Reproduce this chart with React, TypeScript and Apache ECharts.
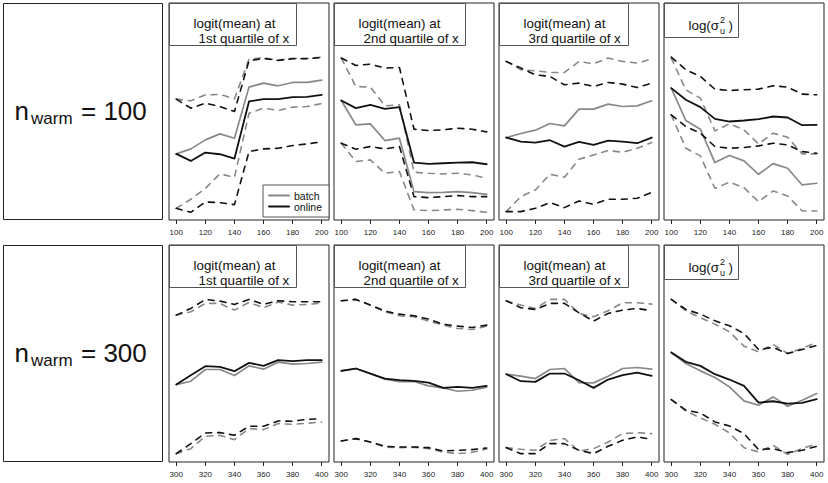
import React, { useEffect, useRef } from "react";
import * as echarts from "echarts";

const FONT = '"Liberation Sans", Arial, Helvetica, sans-serif';

// x values (iterations) for the two warm-up settings
const xsWarm100 = [100, 110, 120, 130, 140, 150, 160, 170, 180, 190, 200];
const xsWarm300 = [300, 310, 320, 330, 340, 350, 360, 370, 380, 390, 400];
const ticksWarm100 = [100, 120, 140, 160, 180, 200];
const ticksWarm300 = [300, 320, 340, 360, 380, 400];

const rowLabels = ["100", "300"];
const titleLine1 = "logit(mean) at";
const quartileLabels = ["1st quartile of x", "2nd quartile of x", "3rd quartile of x"];
const legendNames = ["batch", "online"];

// ---- n_warm = 100, panel 1 (1st quartile) ----
const w100q1BatchMean = [19.8, 21.3, 24.0, 25.8, 24.5, 39.8, 41.0, 40.2, 41.2, 41.2, 41.9];
const w100q1BatchLo = [3.5, 6.2, 9.5, 13.8, 12.8, 32.0, 33.5, 32.8, 33.8, 34.0, 34.9];
const w100q1BatchHi = [36.2, 35.7, 37.5, 37.6, 36.3, 48.2, 48.6, 47.9, 48.4, 48.4, 48.8];
const w100q1OnlineMean = [19.8, 17.7, 20.2, 19.7, 18.4, 35.5, 36.2, 36.2, 36.8, 36.9, 37.5];
const w100q1OnlineLo = [3.5, 2.3, 5.4, 5.2, 4.6, 20.5, 21.3, 21.5, 22.3, 22.8, 23.4];
const w100q1OnlineHi = [36.2, 33.5, 35.0, 34.0, 32.5, 47.7, 48.4, 47.8, 48.3, 48.3, 48.7];

// ---- n_warm = 100, panel 2 (2nd quartile) ----
const w100q2BatchMean = [35.8, 28.5, 28.8, 23.8, 24.5, 8.5, 8.2, 8.3, 8.5, 8.2, 7.7];
const w100q2BatchLo = [23.0, 17.5, 18.0, 14.0, 14.5, 3.0, 2.8, 3.0, 3.2, 2.8, 2.3];
const w100q2BatchHi = [48.5, 40.0, 39.8, 34.2, 34.5, 14.3, 14.0, 13.8, 14.0, 13.5, 12.5];
const w100q2OnlineMean = [35.8, 33.5, 34.5, 33.3, 33.8, 17.2, 16.8, 17.0, 17.2, 17.3, 16.7];
const w100q2OnlineLo = [23.0, 21.2, 22.0, 21.3, 22.0, 7.0, 6.7, 7.0, 7.3, 7.0, 7.0];
const w100q2OnlineHi = [48.5, 46.3, 46.7, 45.5, 45.7, 27.2, 26.8, 27.0, 27.5, 27.2, 26.4];

// ---- n_warm = 100, panel 3 (3rd quartile) ----
const w100q3BatchMean = [24.7, 25.9, 26.9, 28.9, 28.2, 33.2, 33.2, 34.7, 34.0, 34.2, 35.7];
const w100q3BatchLo = [2.5, 7.0, 9.0, 13.7, 12.8, 18.2, 19.5, 20.8, 20.3, 21.5, 23.2];
const w100q3BatchHi = [47.5, 45.0, 44.7, 44.2, 44.2, 47.5, 46.8, 48.5, 47.5, 47.0, 48.2];
const w100q3OnlineMean = [24.7, 23.5, 23.2, 23.9, 22.0, 23.4, 22.5, 23.8, 23.5, 23.0, 24.7];
const w100q3OnlineLo = [2.5, 2.5, 3.5, 5.2, 3.7, 5.7, 4.7, 6.2, 6.2, 6.5, 8.3];
const w100q3OnlineHi = [47.5, 45.5, 43.5, 43.0, 40.5, 41.0, 40.0, 41.2, 40.7, 39.7, 41.0];

// ---- n_warm = 100, panel 4 (log sigma_u^2) ----
const w100sBatchMean = [39.5, 29.8, 27.2, 17.2, 19.3, 17.7, 13.7, 16.9, 15.5, 10.5, 11.0];
const w100sBatchLo = [31.5, 21.5, 19.2, 9.5, 11.3, 9.7, 5.5, 8.7, 7.2, 2.7, 2.7];
const w100sBatchHi = [48.5, 39.0, 36.5, 26.7, 28.8, 27.0, 22.8, 26.0, 24.8, 19.8, 19.8];
const w100sOnlineMean = [39.5, 36.0, 33.8, 30.3, 29.5, 29.8, 30.2, 31.0, 30.7, 28.4, 28.5];
const w100sOnlineLo = [31.5, 28.0, 26.0, 22.0, 21.5, 21.7, 22.2, 23.0, 22.5, 20.5, 20.0];
const w100sOnlineHi = [48.8, 45.0, 43.0, 39.2, 38.8, 39.0, 39.2, 40.2, 39.8, 37.7, 37.5];

// ---- n_warm = 300, panel 1 ----
const w300q1BatchMean = [23.2, 24.2, 27.7, 27.7, 25.9, 28.8, 27.8, 29.9, 29.3, 29.5, 29.9];
const w300q1BatchLo = [2.5, 4.0, 7.7, 8.0, 6.7, 10.0, 9.7, 11.5, 11.3, 11.6, 12.0];
const w300q1BatchHi = [44.0, 45.0, 47.5, 47.5, 45.5, 47.8, 46.2, 47.9, 47.0, 47.2, 47.6];
const w300q1OnlineMean = [23.2, 26.0, 28.7, 28.5, 27.2, 29.7, 28.8, 30.5, 30.2, 30.5, 30.5];
const w300q1OnlineLo = [2.5, 5.5, 8.7, 8.8, 8.0, 10.7, 10.7, 12.3, 12.2, 12.8, 12.9];
const w300q1OnlineHi = [44.0, 46.0, 48.7, 48.2, 47.2, 48.7, 47.2, 48.3, 48.0, 48.0, 48.0];

// ---- n_warm = 300, panel 2 ----
const w300q2BatchMean = [27.3, 28.0, 26.5, 24.8, 24.1, 24.1, 22.8, 22.2, 21.2, 21.5, 22.4];
const w300q2BatchLo = [6.3, 7.0, 6.0, 4.5, 4.3, 4.4, 4.0, 3.0, 2.5, 2.9, 3.9];
const w300q2BatchHi = [48.3, 48.7, 47.0, 45.0, 43.8, 43.5, 42.2, 41.0, 40.0, 39.7, 40.7];
const w300q2OnlineMean = [27.3, 28.0, 26.5, 25.0, 24.5, 24.3, 23.8, 22.2, 22.5, 22.2, 22.8];
const w300q2OnlineLo = [6.3, 7.0, 6.0, 4.7, 4.5, 4.5, 4.3, 3.3, 3.5, 3.7, 4.2];
const w300q2OnlineHi = [48.3, 48.7, 47.0, 45.2, 44.3, 43.8, 42.8, 41.3, 40.7, 40.3, 41.0];

// ---- n_warm = 300, panel 3 ----
const w300q3BatchMean = [26.3, 25.7, 25.0, 27.7, 28.0, 23.8, 23.7, 25.7, 28.0, 28.3, 27.8];
const w300q3BatchLo = [4.3, 3.8, 3.5, 6.5, 7.0, 3.3, 4.0, 6.0, 8.5, 8.8, 8.5];
const w300q3BatchHi = [48.3, 47.0, 46.0, 48.7, 48.7, 44.5, 43.5, 45.3, 47.7, 47.7, 47.3];
const w300q3OnlineMean = [26.3, 24.2, 24.0, 26.5, 26.5, 24.5, 22.2, 24.7, 26.0, 26.8, 25.8];
const w300q3OnlineLo = [4.3, 2.5, 2.5, 5.5, 5.5, 3.5, 2.5, 4.7, 6.5, 7.5, 6.8];
const w300q3OnlineHi = [48.3, 46.2, 45.7, 47.5, 47.5, 44.7, 42.2, 44.5, 45.5, 46.0, 45.3];

// ---- n_warm = 300, panel 4 ----
const w300sBatchMean = [32.8, 29.5, 27.3, 25.3, 22.5, 18.3, 17.0, 19.5, 16.7, 18.5, 20.5];
const w300sBatchLo = [18.7, 15.3, 13.2, 11.3, 8.7, 4.3, 3.0, 5.0, 2.3, 4.0, 5.5];
const w300sBatchHi = [48.7, 45.3, 43.2, 41.3, 39.0, 34.7, 33.0, 35.2, 32.5, 34.0, 35.9];
const w300sOnlineMean = [32.8, 30.0, 28.8, 26.3, 24.7, 22.8, 17.8, 18.2, 17.5, 17.7, 18.8];
const w300sOnlineLo = [18.7, 15.5, 14.7, 12.0, 10.8, 8.5, 3.7, 4.0, 2.8, 3.5, 4.7];
const w300sOnlineHi = [48.7, 45.7, 44.3, 42.3, 40.8, 38.5, 33.7, 34.3, 32.5, 33.7, 34.9];

const GRAY = "#888888";
const BLACK = "#111111";
const FRAME = "#222222";
const BOXLINE = "#555555";

type Panel = {
  row: number;
  col: number;
  xs: number[];
  ticks: number[];
  batch: number[][];
  online: number[][];
};

const panels: Panel[] = [
  { row: 0, col: 0, xs: xsWarm100, ticks: ticksWarm100, batch: [w100q1BatchMean, w100q1BatchLo, w100q1BatchHi], online: [w100q1OnlineMean, w100q1OnlineLo, w100q1OnlineHi] },
  { row: 0, col: 1, xs: xsWarm100, ticks: ticksWarm100, batch: [w100q2BatchMean, w100q2BatchLo, w100q2BatchHi], online: [w100q2OnlineMean, w100q2OnlineLo, w100q2OnlineHi] },
  { row: 0, col: 2, xs: xsWarm100, ticks: ticksWarm100, batch: [w100q3BatchMean, w100q3BatchLo, w100q3BatchHi], online: [w100q3OnlineMean, w100q3OnlineLo, w100q3OnlineHi] },
  { row: 0, col: 3, xs: xsWarm100, ticks: ticksWarm100, batch: [w100sBatchMean, w100sBatchLo, w100sBatchHi], online: [w100sOnlineMean, w100sOnlineLo, w100sOnlineHi] },
  { row: 1, col: 0, xs: xsWarm300, ticks: ticksWarm300, batch: [w300q1BatchMean, w300q1BatchLo, w300q1BatchHi], online: [w300q1OnlineMean, w300q1OnlineLo, w300q1OnlineHi] },
  { row: 1, col: 1, xs: xsWarm300, ticks: ticksWarm300, batch: [w300q2BatchMean, w300q2BatchLo, w300q2BatchHi], online: [w300q2OnlineMean, w300q2OnlineLo, w300q2OnlineHi] },
  { row: 1, col: 2, xs: xsWarm300, ticks: ticksWarm300, batch: [w300q3BatchMean, w300q3BatchLo, w300q3BatchHi], online: [w300q3OnlineMean, w300q3OnlineLo, w300q3OnlineHi] },
  { row: 1, col: 3, xs: xsWarm300, ticks: ticksWarm300, batch: [w300sBatchMean, w300sBatchLo, w300sBatchHi], online: [w300sOnlineMean, w300sOnlineLo, w300sOnlineHi] },
];

const PANEL_W = 160;
const PANEL_H = 217;
const panelLeft = (col: number) => 169 + col * 165;
const panelTop = (row: number) => (row === 0 ? 3 : 245);
const titleBoxW = [127, 131, 129, 74];

function buildOption() {
  const grid: any[] = [];
  const xAxis: any[] = [];
  const yAxis: any[] = [];
  const series: any[] = [];
  const graphic: any[] = [];

  panels.forEach((p, g) => {
    const left = panelLeft(p.col);
    const top = panelTop(p.row);
    grid.push({
      left,
      top,
      width: PANEL_W,
      height: PANEL_H,
      show: true,
      borderColor: FRAME,
      borderWidth: 1,
      backgroundColor: "transparent",
    });
    const x0 = p.xs[0];
    xAxis.push({
      type: "value",
      gridIndex: g,
      min: x0 - 5,
      max: p.xs[p.xs.length - 1] + 5,
      axisLine: { show: false },
      splitLine: { show: false },
      axisTick: {
        show: true,
        inside: false,
        length: 4,
        lineStyle: { color: FRAME, width: 1 },
        customValues: p.ticks,
      },
      axisLabel: {
        show: true,
        customValues: p.ticks,
        fontSize: 8,
        margin: 8,
        color: "#222",
        fontFamily: FONT,
      },
    });
    yAxis.push({
      type: "value",
      gridIndex: g,
      min: 0,
      max: 65,
      show: false,
      splitLine: { show: false },
    });

    const mk = (name: string, vals: number[], color: string, dashed: boolean, width: number, z: number) => ({
      type: "line",
      name,
      xAxisIndex: g,
      yAxisIndex: g,
      data: p.xs.map((x, i) => [x, vals[i]]),
      symbol: "none",
      silent: true,
      z,
      itemStyle: { color },
      lineStyle: {
        color,
        width,
        type: dashed ? [6, 6] : "solid",
        cap: "round",
        join: "round",
      },
    });
    series.push(mk(legendNames[0], p.batch[0], GRAY, false, 1.7, 2));
    series.push(mk("batch lower", p.batch[1], GRAY, true, 1.6, 2));
    series.push(mk("batch upper", p.batch[2], GRAY, true, 1.6, 2));
    series.push(mk(legendNames[1], p.online[0], BLACK, false, 1.8, 3));
    series.push(mk("online lower", p.online[1], BLACK, true, 1.6, 3));
    series.push(mk("online upper", p.online[2], BLACK, true, 1.6, 3));

    // title box
    const bh = p.col === 3 ? 34 : 42;
    graphic.push({
      type: "rect",
      z: 50,
      shape: { x: left + 0.5, y: top + 0.5, width: titleBoxW[p.col], height: bh },
      style: { fill: "#fff", stroke: BOXLINE, lineWidth: 1 },
    });
    if (p.col < 3) {
      graphic.push({
        type: "text",
        z: 51,
        x: left + 24.5,
        y: top + 20.5,
        style: { text: titleLine1, fontSize: 13.4, fontFamily: FONT, fill: BLACK, align: "left", verticalAlign: "middle" },
      });
      graphic.push({
        type: "text",
        z: 51,
        x: left + 29.5,
        y: top + 35,
        style: { text: quartileLabels[p.col], fontSize: 13.4, fontFamily: FONT, fill: BLACK, align: "left", verticalAlign: "middle" },
      });
    } else {
      graphic.push({
        type: "text",
        z: 51,
        x: left + 24.5,
        y: top + 22,
        style: { text: "log(σ", fontSize: 13.4, fontFamily: FONT, fill: BLACK, align: "left", verticalAlign: "middle" },
      });
      graphic.push({
        type: "text",
        z: 51,
        x: left + 56,
        y: top + 16.5,
        style: { text: "2", fontSize: 9, fontFamily: FONT, fill: BLACK, align: "left", verticalAlign: "middle" },
      });
      graphic.push({
        type: "text",
        z: 51,
        x: left + 56,
        y: top + 27.5,
        style: { text: "u", fontSize: 9, fontFamily: FONT, fill: BLACK, align: "left", verticalAlign: "middle" },
      });
      graphic.push({
        type: "text",
        z: 51,
        x: left + 64.5,
        y: top + 22,
        style: { text: ")", fontSize: 13.4, fontFamily: FONT, fill: BLACK, align: "left", verticalAlign: "middle" },
      });
    }
  });

  // row label panels
  rowLabels.forEach((lab, r) => {
    const top = panelTop(r);
    graphic.push({
      type: "rect",
      z: 50,
      shape: { x: 3.5, y: top + 0.5, width: 159, height: 216 },
      style: { fill: "#fff", stroke: FRAME, lineWidth: 1 },
    });
    graphic.push({
      type: "text",
      z: 51,
      x: 14.5,
      y: top + 107.8,
      style: { text: "n", fontSize: 26, fontFamily: FONT, fill: BLACK, align: "left", verticalAlign: "middle" },
    });
    graphic.push({
      type: "text",
      z: 51,
      x: 31,
      y: top + 115,
      style: { text: "warm", fontSize: 17, fontFamily: FONT, fill: BLACK, align: "left", verticalAlign: "middle" },
    });
    graphic.push({
      type: "text",
      z: 51,
      x: 81,
      y: top + 107.8,
      style: { text: "= " + lab, fontSize: 26, fontFamily: FONT, fill: BLACK, align: "left", verticalAlign: "middle" },
    });
  });

  return {
    animation: false,
    backgroundColor: "#ffffff",
    grid,
    xAxis,
    yAxis,
    series,
    graphic: { elements: graphic },
    legend: {
      data: legendNames,
      orient: "vertical",
      left: 263,
      top: 185,
      itemWidth: 20,
      itemHeight: 12,
      itemGap: 0,
      padding: [5, 7, 5, 5],
      borderColor: BOXLINE,
      borderWidth: 1,
      backgroundColor: "#fff",
      selectedMode: false,
      z: 40,
      itemStyle: { opacity: 0, borderWidth: 0, color: "transparent" },
      textStyle: { fontSize: 10.5, fontFamily: FONT, color: BLACK },
    },
  };
}

export default function App() {
  const ref = useRef<HTMLDivElement>(null);
  useEffect(() => {
    if (!ref.current) return;
    const chart = echarts.init(ref.current, undefined, { renderer: "svg" });
    chart.setOption(buildOption() as any);
    return () => chart.dispose();
  }, []);
  return (
    <div
      ref={ref}
      style={{ position: "absolute", left: 0, top: 0, width: 828, height: 483, background: "#fff" }}
    />
  );
}
